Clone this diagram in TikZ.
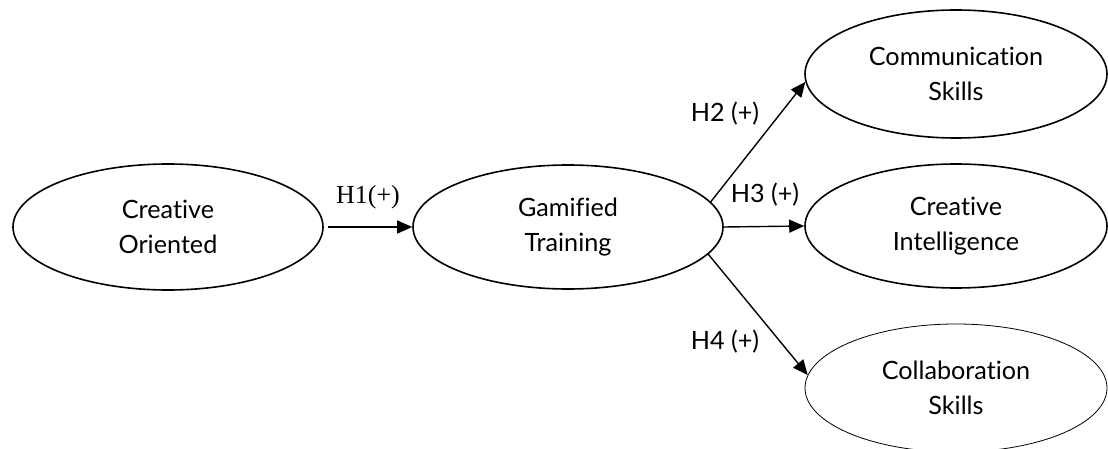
\documentclass[tikz,border=0pt]{standalone}
\usepackage{fontspec}
\setmainfont{Lato}[Ligatures={NoCommon}]
\newfontfamily\labserif{Liberation Serif}
\usetikzlibrary{shapes.geometric,arrows.meta}
\begin{document}
\begin{tikzpicture}[x=0.5pt,y=-0.5pt,
  construct/.style={draw, ellipse, line width=0.8pt, inner sep=0pt, align=center,
    font=\fontsize{12.6}{17.5}\selectfont},
  thinconstruct/.style={construct, line width=0.4pt},
  path/.style={line width=0.7pt, -{Triangle[length=7.5pt,width=6.5pt]}},
  hyp/.style={font=\fontsize{12.6}{15}\selectfont, inner sep=0pt}
]
\useasboundingbox (0,0) rectangle (1108,449);
\node[construct, minimum width=155pt, minimum height=63pt] (co) at (168,227) {Creative\\Oriented};
\node[construct, minimum width=155pt, minimum height=62pt] (gt) at (568,227) {Gamified\\Training};
\node[construct, minimum width=151pt, minimum height=64pt] (cs) at (956,74) {Communication\\Skills};
\node[construct, minimum width=151pt, minimum height=62pt] (ci) at (956,226) {Creative\\Intelligence};
\node[thinconstruct, minimum width=151pt, minimum height=64pt] (cb) at (956,388) {Collaboration\\Skills};

\draw[path, shorten <=2pt] (co.east) -- (gt.west);
\draw[path] (gt.10) -- (cs.183.5);
\draw[path] (gt.east) -- (ci.west);
\draw[path] (gt.-11) -- (cb.175.8);

\node[hyp, font=\labserif\fontsize{13}{15}\selectfont] (h1) at (368,197) {H1(+)};
\node[hyp] (h2) at (725,114) {H2 (+)};
\node[hyp] (h3) at (765,195) {H3 (+)};
\node[hyp] (h4) at (725,342) {H4 (+)};
\end{tikzpicture}
\end{document}
